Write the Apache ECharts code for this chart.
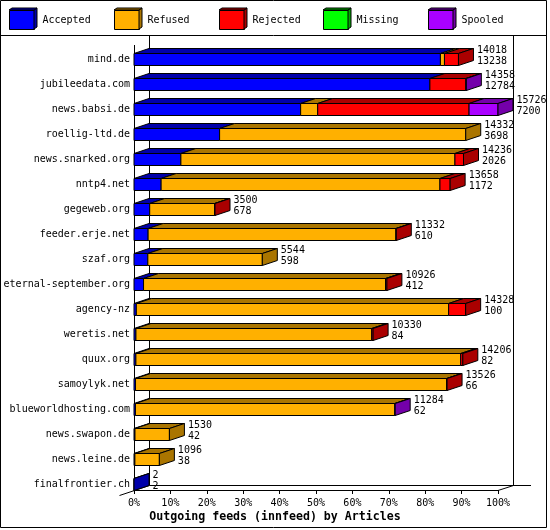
<!DOCTYPE html>
<html>
<head>
    <meta charset="utf-8">
    <script src="https://cdn.jsdelivr.net/npm/echarts@6/dist/echarts.min.js"></script>
    <style>
        body { margin: 0; background: #fff; }
    </style>
</head>
<body>
    <div id="chart" style="width: 550px;height: 530px;"></div>
    <script type="text/javascript">
        // innfeed outgoing feeds, article counts per host
        var hosts = ['mind.de', 'jubileedata.com', 'news.babsi.de', 'roellig-ltd.de', 'news.snarked.org',
            'nntp4.net', 'gegeweb.org', 'feeder.erje.net', 'szaf.org', 'eternal-september.org', 'agency-nz',
            'weretis.net', 'quux.org', 'samoylyk.net', 'blueworldhosting.com', 'news.swapon.de',
            'news.leine.de', 'finalfrontier.ch'];
        var offered = [14018, 14358, 15726, 14332, 14236, 13658, 3500, 11332, 5544, 10926, 14328, 10330, 14206, 13526, 11284, 1530, 1096, 2];
        var accepted = [13238, 12784, 7200, 3698, 2026, 1172, 678, 610, 598, 412, 100, 84, 82, 66, 62, 42, 38, 2];
        var refused = [175, 0, 736, 10634, 11840, 12046, 2812, 10707, 4946, 10454, 13493, 10186, 14034, 13445, 11207, 1488, 1058, 0];
        var rejected = [605, 1554, 6540, 0, 370, 440, 10, 15, 0, 60, 735, 60, 90, 15, 0, 0, 0, 0];
        var missing = [0, 0, 0, 0, 0, 0, 0, 0, 0, 0, 0, 0, 0, 0, 0, 0, 0, 0];
        var spooled = [0, 20, 1250, 0, 0, 0, 0, 0, 0, 0, 0, 0, 0, 0, 15, 0, 0, 0];
        var xTicks = [0, 10, 20, 30, 40, 50, 60, 70, 80, 90, 100];

        var names = ['Accepted', 'Refused', 'Rejected', 'Missing', 'Spooled'];
        var segs = [accepted, refused, rejected, missing, spooled];
        var front = ['#0000ff', '#ffb000', '#ff0000', '#00ff00', '#aa00ff'];
        var dark = ['#0000aa', '#aa7500', '#aa0000', '#00aa00', '#7400aa'];
        var FONT = '"DejaVu Sans Mono", "Liberation Mono", monospace';
        var DX = 15, DY = 5;

        var maxOffered = Math.max.apply(null, offered);
        function pct(v) { return v / maxOffered * 100; }

        // stacked segments, last non-empty one of a row gets the side face
        var segData = [[], [], [], [], []];
        for (var i = 0; i < hosts.length; i++) {
            var last = -1;
            for (var k = 0; k < segs.length; k++) if (segs[k][i] > 0) last = k;
            var acc = 0;
            for (var k = 0; k < segs.length; k++) {
                var v = segs[k][i];
                if (v > 0) segData[k].push([pct(acc), pct(acc + v), i, k === last ? 1 : 0]);
                acc += v;
            }
        }

        function segRender(k) {
            return function (params, api) {
                var p0 = api.coord([api.value(0), api.value(2)]);
                var p1 = api.coord([api.value(1), api.value(2)]);
                var x0 = p0[0], x1 = p1[0];
                var t = p0[1] - 5.5, b = p0[1] + 6.5;
                var kids = [
                    {
                        type: 'polygon',
                        shape: { points: [[x0, t], [x0 + DX, t - DY], [x1 + DX, t - DY], [x1, t]] },
                        style: { fill: dark[k], stroke: '#000', lineWidth: 1 }
                    },
                    {
                        type: 'rect',
                        shape: { x: x0, y: t, width: x1 - x0, height: b - t },
                        style: { fill: front[k], stroke: '#000', lineWidth: 1 }
                    }
                ];
                if (api.value(3)) {
                    kids.push({
                        type: 'polygon',
                        shape: { points: [[x1, t], [x1 + DX, t - DY], [x1 + DX, b - DY], [x1, b]] },
                        style: { fill: dark[k], stroke: '#000', lineWidth: 1 }
                    });
                }
                return { type: 'group', children: kids };
            };
        }

        var series = [];
        for (var k = 0; k < names.length; k++) {
            series.push({
                name: names[k],
                type: 'custom',
                clip: false,
                itemStyle: { color: front[k] },
                encode: { x: [0, 1], y: 2 },
                renderItem: segRender(k),
                data: segData[k]
            });
        }

        var totalData = [];
        for (var i = 0; i < hosts.length; i++) totalData.push([pct(offered[i]), i, offered[i], accepted[i]]);
        series.push({
            name: 'totals',
            type: 'custom',
            clip: false,
            encode: { x: 0, y: 1 },
            renderItem: function (params, api) {
                var p = api.coord([api.value(0), api.value(1)]);
                var x = p[0] + DX + 3.5;
                var st = { font: '10px ' + FONT, fill: '#000', align: 'left', verticalAlign: 'middle' };
                return {
                    type: 'group',
                    children: [
                        { type: 'text', style: Object.assign({ text: String(api.value(2)), x: x, y: p[1] - 9 }, st) },
                        { type: 'text', style: Object.assign({ text: String(api.value(3)), x: x, y: p[1] + 2 }, st) }
                    ]
                };
            },
            data: totalData
        });

        // one legend per entry so they sit at fixed spacing
        var legendLeft = [9, 114, 219, 323, 428];
        var legends = [];
        var legendGraphics = [];
        for (var k = 0; k < names.length; k++) {
            var L = legendLeft[k];
            legends.push({
                data: [names[k]],
                left: L,
                top: 10,
                padding: 0,
                icon: 'rect',
                itemWidth: 25,
                itemHeight: 19,
                itemStyle: { borderColor: '#000', borderWidth: 1 },
                selectedMode: false,
                textStyle: { fontFamily: FONT, fontSize: 10, color: '#000', padding: [0, 0, 0, 3] }
            });
            legendGraphics.push({
                type: 'polygon', z: 100,
                shape: { points: [[L + 25, 10], [L + 28, 8], [L + 28, 27], [L + 25, 29]] },
                style: { fill: dark[k], stroke: '#000', lineWidth: 1 }
            });
            legendGraphics.push({
                type: 'polygon', z: 100,
                shape: { points: [[L, 10], [L + 3, 8], [L + 28, 8], [L + 25, 10]] },
                style: { fill: dark[k], stroke: '#000', lineWidth: 1 }
            });
        }

        var line = function (x1, y1, x2, y2) {
            return { type: 'line', shape: { x1: x1, y1: y1, x2: x2, y2: y2 }, style: { stroke: '#000', lineWidth: 1 } };
        };
        // frame, separator and the 3d box walls
        var frame = [
            { type: 'rect', shape: { x: 0.5, y: 0.5, width: 546, height: 527 }, style: { fill: null, stroke: '#000', lineWidth: 1 } },
            line(0.5, 35.5, 546.5, 35.5),
            line(134.5, 45, 134.5, 490),
            line(149.5, 35.5, 149.5, 485.5),
            line(149.5, 485.5, 531, 485.5),
            line(513.5, 35.5, 513.5, 485.5),
            line(119.5, 495.5, 149.5, 485.5),
            line(498, 490.5, 513.5, 485.5)
        ];

        var myChart = echarts.init(document.getElementById('chart'));
        var option = {
            backgroundColor: '#ffffff',
            animation: false,
            title: {
                text: 'Outgoing feeds (innfeed) by Articles',
                left: 'center',
                top: 511,
                padding: 0,
                textStyle: { fontFamily: FONT, fontSize: 11.6, fontWeight: 'bold', color: '#000' }
            },
            legend: legends,
            grid: { left: 134, right: 52, top: 59, bottom: 46 },
            xAxis: {
                type: 'value',
                min: xTicks[0],
                max: xTicks[xTicks.length - 1],
                interval: xTicks[1] - xTicks[0],
                offset: 6,
                axisLine: { show: true, lineStyle: { color: '#000', width: 1 } },
                axisTick: { show: true, length: 4, lineStyle: { color: '#000' } },
                splitLine: { show: false },
                axisLabel: { formatter: '{value}%', fontFamily: FONT, fontSize: 10, color: '#000', margin: 8 }
            },
            yAxis: {
                type: 'category',
                inverse: true,
                boundaryGap: false,
                data: hosts,
                axisLine: { show: false },
                axisTick: { show: false },
                splitLine: { show: false },
                axisLabel: { fontFamily: FONT, fontSize: 10, color: '#000', margin: 4, interval: 0 }
            },
            graphic: frame.concat(legendGraphics),
            series: series
        };
        myChart.setOption(option);
    </script>
</body>
</html>
